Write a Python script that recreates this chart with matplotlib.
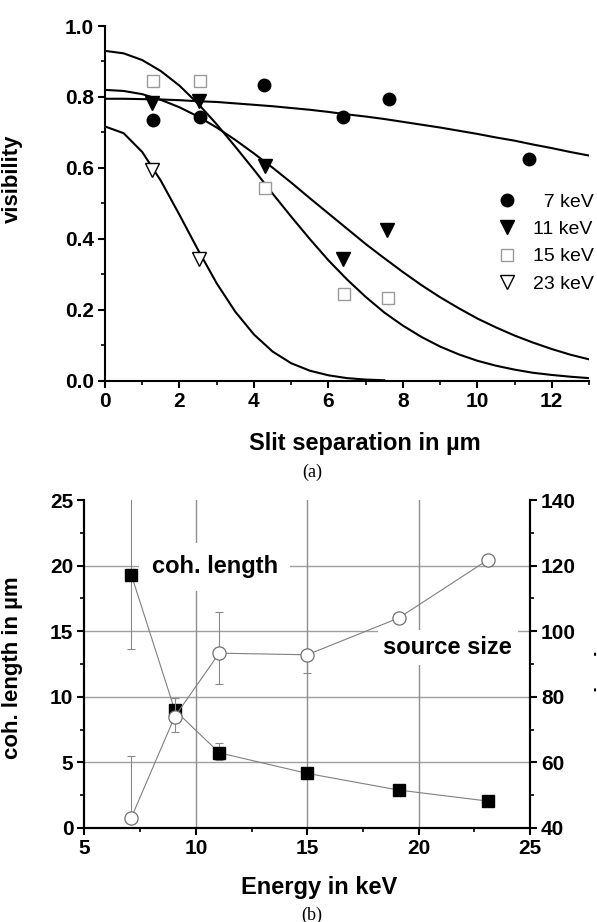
import numpy as np
import matplotlib
matplotlib.use('Agg')
import matplotlib.pyplot as plt
from matplotlib.ticker import MultipleLocator

plt.rcParams['font.family'] = ['Liberation Sans', 'DejaVu Sans']

# ---- (a) visibility vs slit separation ----
x7 = [1.29, 2.56, 4.27, 6.39, 7.63, 11.40]
v7 = [0.734, 0.745, 0.833, 0.745, 0.795, 0.626]
x11 = [1.27, 2.53, 4.29, 6.38, 7.58]
v11 = [0.783, 0.788, 0.607, 0.344, 0.425]
x15 = [1.29, 2.56, 4.29, 6.42, 7.59]
v15 = [0.844, 0.845, 0.545, 0.245, 0.233]
x23 = [1.27, 2.53]
v23 = [0.594, 0.344]

# fit curves every 0.5 um
fit_x = [0.0, 0.5, 1.0, 1.5, 2.0, 2.5, 3.0, 3.5, 4.0, 4.5, 5.0, 5.5, 6.0, 6.5,
         7.0, 7.5, 8.0, 8.5, 9.0, 9.5, 10.0, 10.5, 11.0, 11.5, 12.0, 12.5, 13.0]
fit7 = [0.795, 0.795, 0.794, 0.793, 0.791, 0.788, 0.786, 0.782, 0.778, 0.774,
        0.769, 0.764, 0.758, 0.751, 0.745, 0.738, 0.730, 0.722, 0.714, 0.705,
        0.696, 0.686, 0.677, 0.666, 0.656, 0.645, 0.635]
fit11 = [0.820, 0.817, 0.808, 0.792, 0.771, 0.745, 0.714, 0.679, 0.641, 0.601,
         0.559, 0.515, 0.472, 0.429, 0.386, 0.346, 0.307, 0.270, 0.236, 0.205,
         0.176, 0.151, 0.128, 0.108, 0.090, 0.074, 0.061]
fit15 = [0.930, 0.923, 0.904, 0.873, 0.832, 0.781, 0.723, 0.660, 0.595, 0.528,
         0.463, 0.400, 0.340, 0.286, 0.237, 0.193, 0.156, 0.124, 0.097, 0.075,
         0.057, 0.043, 0.032, 0.023, 0.017, 0.012, 0.008]
fit23_x = [0.0, 0.5, 1.0, 1.5, 2.0, 2.5, 3.0, 3.5, 4.0, 4.5, 5.0, 5.5, 6.0, 6.5, 7.0, 7.5]
fit23 = [0.717, 0.698, 0.645, 0.564, 0.468, 0.369, 0.275, 0.195, 0.131, 0.083,
         0.050, 0.029, 0.016, 0.008, 0.004, 0.002]

# ---- (b) coherence length and source size vs energy ----
energy = [7.1, 9.05, 11.05, 15.0, 19.1, 23.1]
coh = [19.32, 8.99, 5.73, 4.16, 2.89, 2.05]
coh_lo = [5.7, 0.5, 0.55, 0, 0, 0]
coh_hi = [5.9, 0.4, 0.72, 0, 0, 0]
src = [43.1, 73.9, 93.3, 92.8, 104.0, 121.7]
src_lo = [0, 4.7, 9.4, 5.6, 0, 0]
src_hi = [18.9, 5.6, 12.5, 0, 0, 0]

fig = plt.figure(figsize=(5.97, 9.22), dpi=100)

ax1 = fig.add_axes([0.1759, 0.5868, 0.8107, 0.385])
ax1.plot(fit_x, fit7, color='black', lw=1.5)
ax1.plot(fit_x, fit11, color='black', lw=1.5)
ax1.plot(fit_x, fit15, color='black', lw=1.5)
ax1.plot(fit23_x, fit23, color='black', lw=1.5)
h7, = ax1.plot(x7, v7, 'o', color='black', ms=9, ls='none', label='  7 keV')
h11, = ax1.plot(x11, v11, 'v', color='black', ms=9.5, ls='none', label='11 keV')
h15, = ax1.plot(x15, v15, 's', mfc='white', mec='#9a9a9a', mew=1.0, ms=9, ls='none', label='15 keV')
h23, = ax1.plot(x23, v23, 'v', mfc='white', mec='black', mew=1.0, ms=9.5, ls='none', label='23 keV')
ax1.set_xlim(0, 13)
ax1.set_ylim(0, 1.0)
ax1.xaxis.set_major_locator(MultipleLocator(2))
ax1.xaxis.set_minor_locator(MultipleLocator(1))
ax1.yaxis.set_major_locator(MultipleLocator(0.2))
ax1.yaxis.set_minor_locator(MultipleLocator(0.1))
ax1.spines['top'].set_visible(False)
ax1.spines['right'].set_visible(False)
for s in ['left', 'bottom']:
    ax1.spines[s].set_linewidth(1.5)
ax1.tick_params(which='major', length=5, width=1.5, labelsize=15, pad=3)
ax1.tick_params(which='minor', length=3, width=1.2)
for lab in ax1.get_xticklabels() + ax1.get_yticklabels():
    lab.set_fontweight('bold')
ax1.set_xlabel('Slit separation in µm', fontsize=17, fontweight='bold')
ax1.set_ylabel('visibility', fontsize=16, fontweight='bold')
ax1.xaxis.set_label_coords(0.537, -0.143)
ax1.yaxis.set_label_coords(-0.169, 0.569)
ax1.legend(handles=[h7, h11, h15, h23], loc='center right', bbox_to_anchor=(1.01, 0.389),
           frameon=False, fontsize=14, handletextpad=0.75, labelspacing=0.5,
           borderaxespad=0, borderpad=0, handlelength=1.2)
fig.text(0.523, 1 - 472 / 922, '(a)', family=['Liberation Serif'], fontsize=13,
         ha='center', va='center')

ax2 = fig.add_axes([0.1415, 0.1020, 0.7462, 0.3557])
ax2.set_xlim(5, 25)
ax2.set_ylim(0, 25)
for yy in [5, 10, 15, 20]:
    ax2.axhline(yy, color='#a0a0a0', lw=1.0, zorder=0)
for xx in [10, 15, 20]:
    ax2.axvline(xx, color='#909090', lw=1.0, zorder=0)
ax2.text(10.85, 19.9, 'coh. length', ha='center', va='center', fontsize=17,
         fontweight='bold', zorder=1,
         bbox=dict(facecolor='white', edgecolor='none', pad=9))
ax2.text(21.3, 13.75, 'source size', ha='center', va='center', fontsize=17,
         fontweight='bold', zorder=1,
         bbox=dict(facecolor='white', edgecolor='none', pad=4))
ax2.errorbar(energy, coh, yerr=[coh_lo, coh_hi], fmt='none', ecolor='#8a8a8a',
             elinewidth=0.8, capsize=3, capthick=0.8, zorder=2)
ax2.plot(energy, coh, '-', color='#808080', lw=0.8, zorder=2)
ax2.plot(energy, coh, 's', color='black', ms=8, ls='none', zorder=3)
ax2.xaxis.set_major_locator(MultipleLocator(5))
ax2.xaxis.set_minor_locator(MultipleLocator(2.5))
ax2.yaxis.set_major_locator(MultipleLocator(5))
ax2.yaxis.set_minor_locator(MultipleLocator(2.5))
ax2.spines['top'].set_visible(False)
ax2.set_xlabel('Energy in keV', fontsize=17, fontweight='bold')
ax2.set_ylabel('coh. length in µm', fontsize=16, fontweight='bold')
ax2.xaxis.set_label_coords(0.527, -0.145)
ax2.yaxis.set_label_coords(-0.138, 0.489)

ax3 = ax2.twinx()
ax3.set_ylim(40, 140)
ax3.errorbar(energy, src, yerr=[src_lo, src_hi], fmt='none', ecolor='#8a8a8a',
             elinewidth=0.8, capsize=3, capthick=0.8, zorder=2)
ax3.plot(energy, src, '-', color='#808080', lw=0.8, zorder=2)
ax3.plot(energy, src, 'o', mfc='white', mec='#707070', mew=0.9, ms=9.5, ls='none', zorder=3)
ax3.yaxis.set_major_locator(MultipleLocator(20))
ax3.yaxis.set_minor_locator(MultipleLocator(10))
ax3.spines['top'].set_visible(False)

for ax in [ax2, ax3]:
    for s in ['left', 'bottom', 'right']:
        ax.spines[s].set_linewidth(1.5)
    ax.tick_params(which='major', length=5, width=1.5, labelsize=15, pad=3)
    ax.tick_params(which='minor', length=3, width=1.2)
    for lab in ax.get_xticklabels() + ax.get_yticklabels():
        lab.set_fontweight('bold')

fig.text(0.9965, 1 - 690 / 922, 'source size in µm', rotation=90, ha='left',
         va='center', fontsize=16, fontweight='bold')
fig.text(0.523, 1 - 915 / 922, '(b)', family=['Liberation Serif'], fontsize=13,
         ha='center', va='center')

fig.savefig('out.png', dpi=100)
